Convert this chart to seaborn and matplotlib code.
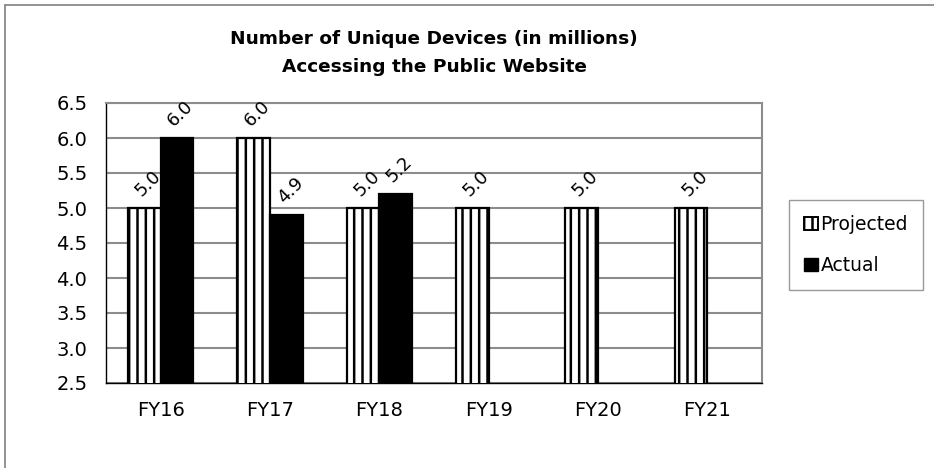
import numpy as np
import pandas as pd
import matplotlib
matplotlib.use("Agg")
import matplotlib.pyplot as plt
import seaborn as sns
from matplotlib.patches import Patch
from matplotlib.lines import Line2D

# data
categories = ["FY16", "FY17", "FY18", "FY19", "FY20", "FY21"]
projected = [5.0, 6.0, 5.0, 5.0, 5.0, 5.0]
actual = [6.0, 4.9, 5.2, np.nan, np.nan, np.nan]
series = ["Projected", "Actual"]
y_ticks = [2.5, 3.0, 3.5, 4.0, 4.5, 5.0, 5.5, 6.0, 6.5]
title = "Number of Unique Devices (in millions)\nAccessing the Public Website"

df = pd.DataFrame({
    "year": categories * 2,
    "series": [series[0]] * len(categories) + [series[1]] * len(categories),
    "value": projected + actual,
})

sns.set_style("white")
plt.rcParams["font.family"] = ["DejaVu Sans"]
plt.rcParams["text.color"] = "black"
plt.rcParams["xtick.color"] = "black"
plt.rcParams["ytick.color"] = "black"
plt.rcParams["axes.labelcolor"] = "black"
plt.rcParams["hatch.linewidth"] = 1.8
plt.rcParams["hatch.color"] = "black"

fig = plt.figure(figsize=(9.34, 4.68), dpi=100)
ax = fig.add_axes([106 / 934, 1 - 383 / 468, 656 / 934, 280 / 468])

sns.barplot(data=df, x="year", y="value", hue="series", hue_order=series,
            order=categories, palette={"Projected": "white", "Actual": "black"},
            saturation=1, width=0.6, edgecolor="black", linewidth=1.6,
            ax=ax, zorder=3)
ax.get_legend().remove()

# vertical hatching on projected bars
for bar in ax.containers[0]:
    bar.set_hatch("||")
    bar.set_facecolor("white")
    bar.set_edgecolor("black")

# rotated value labels
for cont in ax.containers:
    for bar in cont:
        h = bar.get_height()
        if np.isnan(h):
            continue
        ax.annotate(f"{h:.1f}", (bar.get_x() + bar.get_width() / 2, h),
                    xytext=(0, 6), textcoords="offset points",
                    rotation=45, rotation_mode="anchor", ha="left", va="bottom",
                    fontsize=13, zorder=4)

ax.set_ylim(2.5, 6.5)
ax.set_xlim(-0.5, len(categories) - 0.5)
ax.set_yticks(y_ticks)
ax.set_yticklabels([f"{v:.1f}" for v in y_ticks], fontsize=14)
ax.set_xticks(range(len(categories)))
ax.set_xticklabels(categories, fontsize=14)
ax.set_xticks(np.arange(-0.5, len(categories)), minor=True)
ax.tick_params(axis="x", which="major", length=0, pad=13)
ax.tick_params(axis="x", which="minor", length=4.5, width=1, color="black", direction="out")
ax.tick_params(axis="y", length=4.5, width=1, color="black", direction="out", pad=9)
ax.set_xlabel("")
ax.set_ylabel("")

ax.yaxis.grid(True, color="#8c8c8c", linewidth=1.5, zorder=0)
ax.set_axisbelow(True)
for side in ["left", "bottom"]:
    ax.spines[side].set_color("black")
    ax.spines[side].set_linewidth(1)
for side in ["top", "right"]:
    ax.spines[side].set_color("#8c8c8c")
    ax.spines[side].set_linewidth(1.5)

fig.text(434 / 934, 1 - 53 / 468, title, ha="center", va="center",
         fontsize=13.3, fontweight="bold", linespacing=1.72)

handles = [Patch(facecolor="white", edgecolor="black", hatch="||", linewidth=1.4),
           Patch(facecolor="black", edgecolor="black")]
leg = fig.legend(handles, series, loc="center", bbox_to_anchor=(856 / 934, 1 - 245 / 468),
                 fontsize=13.5, frameon=True, fancybox=False, handlelength=0.72,
                 handleheight=0.72, handletextpad=0.15, labelspacing=1.2,
                 borderpad=0.8)
leg.get_frame().set_edgecolor("#808080")
leg.get_frame().set_linewidth(1)

# outer chart border (left and top edges visible)
fig.add_artist(Line2D([5 / 934, 5 / 934], [0, 1 - 5 / 468], color="#808080", lw=1.2))
fig.add_artist(Line2D([5 / 934, 1], [1 - 5 / 468, 1 - 5 / 468], color="#808080", lw=1.2))

fig.savefig("out.png", dpi=100, facecolor="white")
